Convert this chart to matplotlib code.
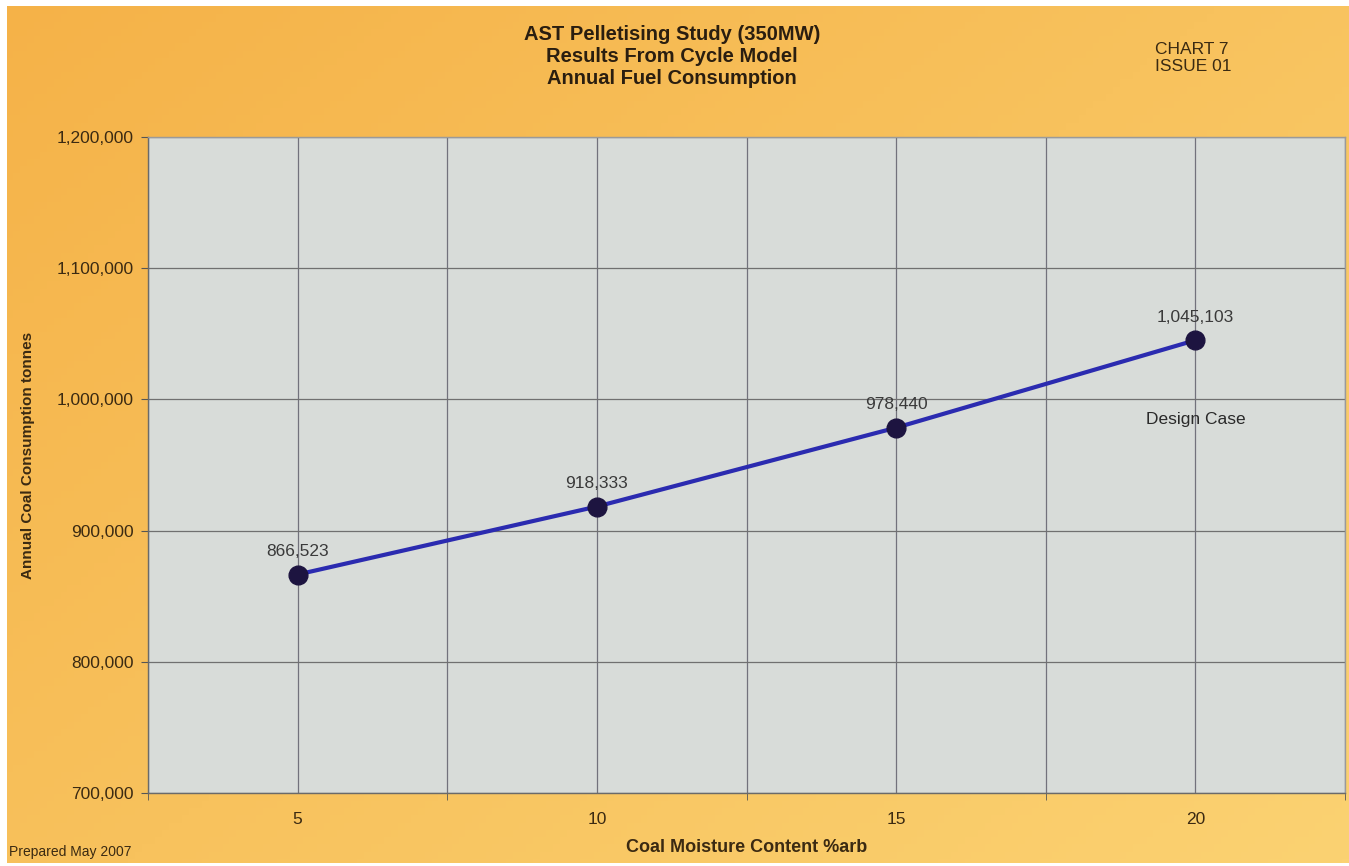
import numpy as np
import matplotlib.pyplot as plt
from matplotlib.patches import Rectangle

moisture = [5, 10, 15, 20]
consumption = [866523, 918333, 978440, 1045103]
point_labels = ["866,523", "918,333", "978,440", "1,045,103"]
y_ticks = [700000, 800000, 900000, 1000000, 1100000, 1200000]

plt.rcParams['font.family'] = ['Liberation Sans', 'DejaVu Sans']
text_col = "#3b2a12"

fig = plt.figure(figsize=(13.49, 8.66), dpi=100)
fig.patch.set_facecolor("#f7bd55")

# paper-like background gradient
bg = fig.add_axes([0, 0, 1, 1], zorder=-10)
gx = np.linspace(0, 1, 200)
gy = np.linspace(0, 1, 120)
X, Y = np.meshgrid(gx, gy)
t = np.clip(0.55 * X + 0.45 * Y, 0, 1)
c0 = np.array([0xf5, 0xb2, 0x48]) / 255
c1 = np.array([0xfb, 0xd2, 0x72]) / 255
img = c0[None, None, :] * (1 - t[..., None]) + c1[None, None, :] * t[..., None]
bg.imshow(img, aspect="auto", extent=[0, 1, 0, 1], origin="upper")
bg.axis("off")

W, H = 1349, 866
ax = fig.add_axes([148 / W, 1 - 793 / H, (1345 - 148) / W, (793 - 137) / H])
ax.set_facecolor("#d8dcd9")

ax.plot(moisture, consumption, color="#2b2bb0", lw=3, zorder=3,
        marker="o", markersize=13.5, markerfacecolor="#1d1440",
        markeredgecolor="#1d1440")

for x, y, lab in zip(moisture, consumption, point_labels):
    ax.annotate(lab, (x, y), xytext=(0, 11), textcoords="offset points",
                ha="center", va="bottom", fontsize=12.5, color="#3a3a3a")
ax.annotate("Design Case", (moisture[-1], consumption[-1]), xytext=(0, -57),
            textcoords="offset points", ha="center", va="center",
            fontsize=12.5, color="#2a2a2a")

ax.set_xlim(2.5, 22.5)
ax.set_ylim(700000, 1200000)
ax.set_xticks(moisture)
ax.set_xticks(np.arange(2.5, 22.6, 5), minor=True)
ax.set_yticks(y_ticks)
ax.set_yticklabels([f"{v:,}" for v in y_ticks])
ax.tick_params(axis="x", which="major", length=0, pad=14, labelsize=12.5,
               labelcolor=text_col)
ax.tick_params(axis="x", which="minor", length=5, color="#555555")
ax.tick_params(axis="y", length=5, color="#555555", labelsize=12.5,
               labelcolor=text_col, pad=5)

ax.grid(True, which="both", axis="x", color="#72727c", lw=0.9)
ax.grid(True, which="major", axis="y", color="#707070", lw=0.9)
ax.set_axisbelow(True)
for s in ax.spines.values():
    s.set_color("#6a6a6a")
    s.set_linewidth(1)
ax.spines["top"].set_color("#9a9a9a")
ax.spines["right"].set_color("#9a9a9a")

ax.set_xlabel("Coal Moisture Content %arb", fontsize=13, fontweight="bold",
              color=text_col, labelpad=8)
fig.text(28 / W, 1 - 455 / H, "Annual Coal Consumption tonnes", rotation=90,
         ha="center", va="center", fontsize=11, fontweight="bold", color=text_col)

fig.text(672 / W, 1 - 57 / H, "AST Pelletising Study (350MW)\nResults From Cycle Model\nAnnual Fuel Consumption",
         ha="center", va="center", fontsize=14.5, fontweight="bold",
         color="#2a1e10", linespacing=1.2)
fig.text(1155 / W, 1 - 58 / H, "CHART 7\nISSUE 01", ha="left", va="center",
         fontsize=12.5, color="#3a2a12", linespacing=1.1)
fig.text(9 / W, 1 - 852 / H, "Prepared May 2007", ha="left", va="center",
         fontsize=10, color="#3a2a12")

# white scan margins
fig.patches.append(Rectangle((0, 0), 7 / W, 1, transform=fig.transFigure,
                             facecolor="white", edgecolor="none", zorder=5))
fig.patches.append(Rectangle((0, 1 - 6 / H), 1, 6 / H, transform=fig.transFigure,
                             facecolor="white", edgecolor="none", zorder=5))
fig.patches.append(Rectangle((0, 0), 1, 3 / H, transform=fig.transFigure,
                             facecolor="white", edgecolor="none", zorder=5))

fig.savefig("out.png", dpi=100)
